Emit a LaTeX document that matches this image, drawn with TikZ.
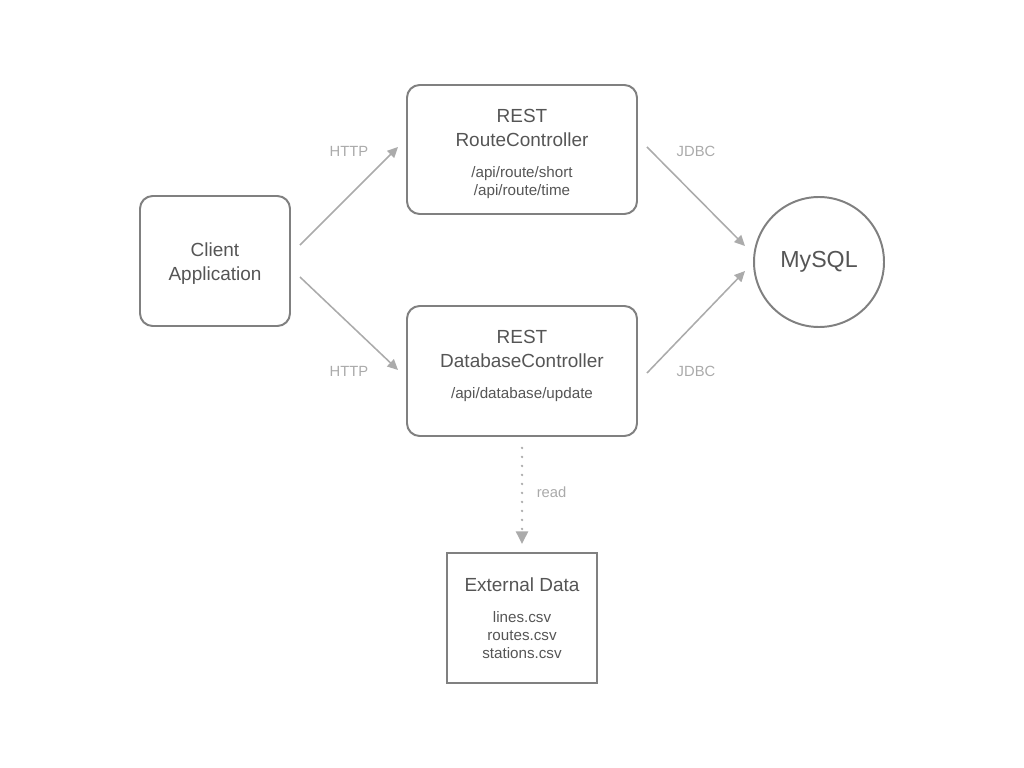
\documentclass[tikz,border=0pt]{standalone}
\usepackage{fontspec}
\setmainfont{Liberation Sans}
\usetikzlibrary{arrows.meta}

\definecolor{edgegray}{HTML}{808080}
\definecolor{wiregray}{HTML}{ABABAB}
\definecolor{textgray}{HTML}{555555}
\definecolor{notegray}{HTML}{AAAAAA}

\newcommand{\mainsize}{\fontsize{13.5pt}{17pt}\selectfont}
\newcommand{\subsize}{\fontsize{10.8pt}{12.8pt}\selectfont}

\begin{document}
\begin{tikzpicture}[x=0.025cm, y=-0.025cm,
    block/.style={draw=edgegray, line width=1.4pt, rounded corners=9pt,
        text=textgray, align=center, font=\mainsize, inner sep=0pt},
    wire/.style={color=wiregray, line width=1.1pt,
        -{Triangle[length=7.5pt,width=7pt]}},
    lbl/.style={text=notegray, font=\fontsize{10.5pt}{12pt}\selectfont}]
\useasboundingbox (0,0) rectangle (1024,768);
%把各個方塊放在圖上的位置
\coordinate (ClientPt) at (215,261);
\coordinate (RoutePt) at (522,149.5);
\coordinate (DbPt) at (522,371);
\coordinate (SqlPt) at (819,262);
\coordinate (ExtPt) at (522,618);

\node[block, minimum width=150*0.025cm, minimum height=130*0.025cm]
    (Client) at (ClientPt) {\rule{0pt}{13pt}Client\\Application};
\node[block, minimum width=230*0.025cm, minimum height=129*0.025cm]
    (Route) at (RoutePt)
    {\rule{0pt}{15.5pt}REST\\RouteController\\[5pt]\subsize /api/route/short\\[-4.3pt]\subsize /api/route/time};
\node[block, minimum width=230*0.025cm, minimum height=130*0.025cm]
    (Db) at (DbPt)
    {REST\\DatabaseController\\[5pt]\subsize /api/database/update\\[-7pt]\subsize \mbox{}};
\node[block, circle, rounded corners=0pt, minimum size=130*0.025cm,
    font=\fontsize{16.5pt}{19pt}\selectfont]
    (Sql) at (SqlPt) {MySQL};
\node[block, rounded corners=0pt, minimum width=150*0.025cm, minimum height=130*0.025cm]
    (Ext) at (ExtPt)
    {External Data\\[5pt]\subsize lines.csv\\[-4.3pt]\subsize routes.csv\\[-4.3pt]\subsize stations.csv};

%箭頭的起點與終點
\coordinate (c1) at ([shift={(9,-16)}]Client.east);
\coordinate (c2) at ([shift={(9,16)}]Client.east);
\coordinate (r1) at ([shift={(-8,-2.5)}]Route.west);
\coordinate (d1) at ([shift={(-8,-1)}]Db.west);
\coordinate (r2) at ([shift={(9,-2.5)}]Route.east);
\coordinate (d2) at ([shift={(9,2)}]Db.east);
\coordinate (s1) at ([shift={(-8,-16)}]Sql.west);
\coordinate (s2) at ([shift={(-8,9)}]Sql.west);
\coordinate (d3) at ([shift={(0,11)}]Db.south);
\coordinate (e1) at ([shift={(0,-8)}]Ext.north);

\draw[wire] (c1) -- node[lbl, yshift=32pt] {HTTP} (r1);
\draw[wire] (c2) -- node[lbl, yshift=-34pt] {HTTP} (d1);
\draw[wire] (r2) -- node[lbl, yshift=32pt] {JDBC} (s1);
\draw[wire] (d2) -- node[lbl, yshift=-35pt] {JDBC} (s2);

\draw[wire, -{Triangle[length=9pt,width=8.5pt]}, line width=1.8pt,
    line cap=round, dash pattern=on 0pt off 6.4pt]
(d3) -- node[lbl, xshift=21pt, yshift=3pt] {read} (e1);
\end{tikzpicture}
\end{document}
